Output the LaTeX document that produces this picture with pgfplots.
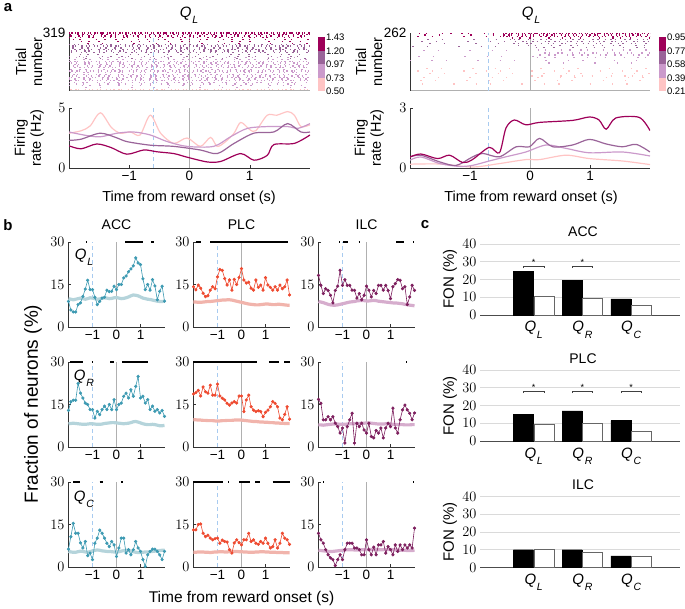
\documentclass[border=0pt]{standalone}
\usepackage{pgfplots}
\usepackage{pgfplotstable}
\pgfplotsset{compat=1.18}
\usepackage{fontspec}
\setmainfont{Liberation Sans}
\definecolor{magD}{HTML}{9E0059}
\definecolor{purM}{HTML}{9A6499}
\definecolor{purL}{HTML}{CB9ACB}
\definecolor{pinkL}{HTML}{FFC4C4}
\definecolor{accC}{HTML}{3D9AB2}
\definecolor{accB}{HTML}{B5D4DB}
\definecolor{plcC}{HTML}{EE4A30}
\definecolor{plcB}{HTML}{F1B4AC}
\definecolor{ilcC}{HTML}{7D1F5E}
\definecolor{ilcB}{HTML}{D6ADCD}
\definecolor{dashB}{HTML}{A8CBF0}
\definecolor{zeroG}{HTML}{B0B0B0}
\definecolor{gridG}{HTML}{DADADA}
\newcommand\Q[2][10.5]{\textit{Q}\kern0.8pt\raisebox{-0.42em}{\fontsize{#1}{#1}\selectfont\textit{#2}}}
\tikzset{
 dE/.style={dash pattern=on 1.4pt off 1.0pt on 1.4pt off 2.2pt on 1.4pt off 0.8pt on 1.4pt off 3.0pt},
 p1/.style={dash pattern=on 1.4pt off 1.9pt on 1.4pt off 3.7pt on 1.4pt off 1.2pt on 1.4pt off 5.1pt on 1.4pt off 2.6pt},
 p2/.style={dash pattern=on 1.4pt off 2.7pt on 1.4pt off 1.5pt on 1.4pt off 6.1pt on 1.4pt off 3.3pt on 1.4pt off 3.3pt},
 p3/.style={dash pattern=on 1.4pt off 3.1pt on 1.4pt off 6.4pt on 1.4pt off 2.2pt on 1.4pt off 4.9pt},
 m1/.style={dash pattern=on 1.4pt off 4.4pt on 1.4pt off 2.9pt on 1.4pt off 8.3pt on 1.4pt off 3.5pt on 1.4pt off 6.1pt},
 m2/.style={dash pattern=on 1.4pt off 5.7pt on 1.4pt off 3.4pt on 1.4pt off 7.1pt on 1.4pt off 2.4pt on 1.4pt off 9.2pt},
 m3/.style={dash pattern=on 1.4pt off 3.8pt on 1.4pt off 7.7pt on 1.4pt off 4.6pt on 1.4pt off 11.3pt},
 s1/.style={dash pattern=on 1.4pt off 9.5pt on 1.4pt off 5.2pt on 1.4pt off 14.7pt on 1.4pt off 7.3pt},
 s2/.style={dash pattern=on 1.4pt off 12.1pt on 1.4pt off 6.3pt on 1.4pt off 8.8pt on 1.4pt off 17.5pt},
 vs/.style={dash pattern=on 1.4pt off 21pt on 1.4pt off 13pt on 1.4pt off 30pt},
}
\newcommand\rr[6]{\addplot[#1,line width=1.4pt,#2,dash phase=#3pt,forget plot] coordinates {(#4,#6)(#5,#6)};}
\newcommand\sig[2]{\addplot[black,line width=1.6pt,forget plot] coordinates {(#1,30)(#2,30)};}
\newcommand\vl[1]{\addplot[zeroG,line width=0.7pt] coordinates {(0,0)(0,30)};
 \addplot[dashB,line width=1pt,dash pattern=on 4pt off 3pt] coordinates {(#1,0)(#1,30)};}
\newcommand\brk[3]{\draw[black!75,line width=0.6pt] (axis cs:#1,#3-1) -- (axis cs:#1,#3) -- (axis cs:#2,#3) -- (axis cs:#2,#3-1);}
\pgfplotsset{
 base/.style={scale only axis, anchor=south west, axis x line*=bottom, axis y line*=left,
   axis line style={black!80, line width=0.6pt}, tick style={black!80, line width=0.5pt},
   tick align=inside, major tick length=2.5pt,
   tick label style={font=\fontsize{13.5}{14}\selectfont}},
 ras/.style={base, width=241pt, height=57.7pt, xmin=-2, xmax=2, ymin=0, xtick=\empty, major tick length=0pt, x axis line style={zeroG}},
 fr/.style={base, width=241pt, height=60pt, xmin=-2, xmax=2, ymin=0, xtick={-1,0,1}, xticklabels={−1,0,1}},
 cb/.style={scale only axis, anchor=south west, width=7pt, height=54pt, xmin=0, xmax=1, axis x line=none, axis y line*=right, y axis line style={draw=none}, major tick length=0pt, yticklabel style={font=\fontsize{9.5}{10}\selectfont, xshift=-2.5pt}},
 bx/.style={base, width=97pt, height=85pt, xmin=-2.02, xmax=2.02, ymin=0, ymax=30, xtick={-1,0,1}, xticklabels={−1,0,1}, ytick={0,15,30}, clip=false},
 cx/.style={scale only axis, anchor=south west, width=200pt, height=71pt, xmin=-0.1, xmax=4, ymin=0, ymax=40, ytick={0,10,20,30,40}, ymajorgrids, grid style={gridG, line width=0.6pt}, axis x line*=bottom, axis y line*=left, y axis line style={draw=none}, x axis line style={black!70, line width=0.7pt}, major tick length=0pt, xtick={1,2,3}, xticklabels={\Q{L},\Q{R},\Q{C}}, yticklabel style={font=\fontsize{13.5}{14}\selectfont}, xticklabel style={font=\fontsize{15}{15}\selectfont, yshift=-3pt}, clip=false},
 bk/.style={ybar, bar width=20pt, bar shift=0pt, fill=black, draw=black},
 wh/.style={ybar, bar width=20pt, bar shift=0pt, fill=white, draw=black!60, line width=0.8pt},
}
\pgfplotstableread{
t aL aR aC pL pR pC iL iR iC baL baR baC bpL bpR bpC biL biR biC
-2.0 9 12.9 6.3 14.2 18.7 13.1 18.2 16.8 11.9 10 8.2 5.5 8.8 9.6 5.2 9 7.8 5.9
-1.9 6 16 10.7 13.1 19.2 13.1 14.7 15.4 9.6 9.8 8.3 5.3 8.8 9.6 5.2 8.8 7.8 5.8
-1.8 5.3 16.5 15.4 14.8 20 15 11.8 9.6 8.4 9.6 8.4 5.2 8.7 9.5 5.3 8.6 7.7 5.7
-1.7 5.3 16.5 11.9 13.7 18 15.2 13.5 9.6 6.1 9.8 8.3 5.2 8.7 9.5 5.3 8.3 7.8 5.6
-1.6 7.9 22.4 11.9 11.9 21.2 11.9 12.9 10.7 4.3 10 8.2 5.4 8.8 9.4 5.3 8 7.9 5.5
-1.5 8.5 19 8.5 10.7 19.5 10.7 11.2 9.6 3.2 10.2 8.1 5.6 8.9 9.4 5.2 7.8 8 5.5
-1.4 10.8 17.3 6.7 11 19 11.2 8.5 10.7 2.6 10 8 5.5 9 9.3 5.2 7.7 8.1 5.5
-1.3 13.4 15.5 9 13 21.8 10.2 12.9 8.4 0.5 9.8 8 5.3 9 9.3 5.1 7.7 8.1 5.6
-1.2 16.5 15 4 14.2 18.3 9.6 14.4 7.2 2.6 10 8.1 5.2 9.1 9.3 5.2 7.8 8.1 5.7
-1.1 13.2 13.2 4.9 13.5 18.3 10 20 4.9 4.3 10.3 8.2 5.4 9.2 9.2 5.3 8 8 5.8
-1.0 13.2 13.2 2.6 17.7 22.2 10.2 14.7 6.7 2.6 10.2 8.2 5.7 9.3 9.2 5.3 8.2 8 5.9
-0.9 10.5 10.2 8.4 20.3 18 8.4 16.7 1.4 6.1 10 8.1 5.9 9.4 9.2 5.4 8.4 8 6
-0.8 7.9 12.6 10.2 20 17.2 9.5 14.7 7.2 8.4 9.8 8 6 9.5 9.3 5.4 8.6 8.1 6.1
-0.7 9 11.4 13 17.1 16.6 9 14.7 9.6 8.4 9.9 8 5.9 9.5 9.3 5.3 8.8 8.2 6.1
-0.6 10.2 13.2 11.9 14.8 15.4 8.8 13 11.9 8.4 10.1 8.1 5.7 9.6 9.4 5.3 8.9 8.2 6.1
-0.5 10.5 14.4 10.2 16.6 14.8 6.1 12.9 1.4 6.7 10.3 8.3 5.6 9.6 9.4 5.4 9 8.2 6
-0.4 13 13.2 8.4 13 15.5 4.9 10.2 8.4 6.7 10.2 8.4 5.5 9.5 9.4 5.5 9.2 8.3 6
-0.3 12.5 15 7.2 16.8 16 8.5 11.8 7.2 6.1 10 8.5 5.5 9.3 9.5 5.5 9.3 8.3 6
-0.2 12.6 13.2 9 15 15.5 9.6 9.6 8.4 4.3 10.1 8.6 5.4 9.1 9.5 5.5 9.3 8.4 6.1
-0.1 14.4 16.7 7.8 17.5 18 8.6 11.2 6 4.3 10.3 8.6 5.3 8.9 9.5 5.4 9.3 8.4 6.1
0.0 13.2 13.2 3.7 20.6 18 7.8 14.4 4.9 9.6 10.4 8.5 5.3 8.7 9.5 5.4 9.2 8.5 6.1
0.1 15 15 6.7 16.6 12.5 9.6 13 8.4 6.1 10.2 8.4 5.4 8.5 9.4 5.3 9.2 8.5 6.2
0.2 15 15.5 10.2 15.5 16.6 9.6 10.6 3.7 4.3 10 8.3 5.6 8.3 9.3 5.3 9.3 8.4 6.2
0.3 17.3 17.9 10.2 15.8 18.3 11.9 12.9 3.2 7 10.1 8.2 5.8 8.1 9.2 5.2 9.4 8.3 6.2
0.4 18 19 4.9 13.7 14.2 9 11.8 5.8 4.3 10.3 8.3 5.9 8 9.1 5.2 9.3 8.2 6.2
0.5 19.5 17.3 6.1 13 13 9.6 14.7 4.9 7.8 10.6 8.4 5.8 7.9 9 5.2 9.1 8.1 6.1
0.6 20.5 20.2 4.3 16.6 12.5 8.4 14.7 6.7 7.8 11 8.6 5.6 7.8 9 5.3 9 8.1 6.1
0.7 21.6 17.9 6.1 14 12.8 8 13 3.2 9 11.3 8.9 5.4 7.8 8.9 5.3 8.9 8.1 6.1
0.8 24.4 21.4 9 14.8 12.5 9 14.7 6.7 4.9 11.2 9 5.2 7.9 8.8 5.4 8.8 8.2 6.2
0.9 22.6 24.9 6.7 13 10.7 8.4 12.9 8.4 7.2 11 8.8 5.1 8 8.8 5.4 8.7 8.2 6.2
1.0 22 17.3 5.5 17.4 12.2 10.2 10 7.2 6.1 10.6 8.5 5.1 8.1 8.7 5.3 8.6 8.1 6.2
1.1 17 17.9 2.6 14.8 13 8.4 14.2 13.7 4.3 10.2 8.2 5.2 8.1 8.7 5.3 8.5 8 6.1
1.2 13.2 15.5 0.2 14 14.2 6.7 15.3 6.7 7.8 10 8 5.3 8 8.6 5.2 8.5 8 6
1.3 15 16.7 4.3 13 16 7.2 16.7 4.9 5.5 9.8 7.9 5.3 7.9 8.6 5.2 8.4 7.9 6
1.4 13 13.2 5.5 14.2 15.4 9.6 16.5 9.6 7.8 9.7 7.9 5.4 7.9 8.5 5.2 8.3 7.9 5.9
1.5 16.7 14.4 6.3 13 14.2 6.7 13.5 13.1 6.1 9.5 8 5.5 8 8.5 5.1 8.2 7.9 5.9
1.6 14.5 12.6 6.3 14.8 10.2 8.4 14.2 14.8 7.8 9.3 7.9 5.6 8 8.4 5.1 8 7.8 5.9
1.7 9.6 13.2 5.5 13.5 9.6 11.9 7.9 13.1 6.7 9.1 7.7 5.7 7.9 8.4 5.1 7.9 7.8 5.8
1.8 12.6 12 4.3 14.2 11.5 10.2 10.6 11.9 7.8 9 7.5 5.8 7.8 8.3 5 7.7 7.8 5.8
1.9 14.4 12.9 2.6 16.6 14.2 9.6 14.7 9.6 6.7 9 7.5 5.9 7.7 8.3 5 7.6 7.9 5.8
2.0 9.1 10.8 5.5 11.3 9.8 8 12.9 12 13.7 9.1 7.6 5.9 7.7 8.3 5 7.5 7.9 5.9
}\dat
\newcommand\bpanel[4]{%
 \addplot[#1,line width=3.2pt] table[x=t,y=#3]{\dat};
 \addplot[#2,line width=0.6pt,mark=*,mark size=1.3pt,mark options={fill=#2,draw=#2}] table[x=t,y=#4]{\dat};}
\begin{document}
\begin{tikzpicture}[x=1pt,y=1pt]
\useasboundingbox (0pt,0pt) rectangle (685pt,609pt);
% ================= panel a left ==================
\begin{axis}[ras, at={(69pt,518.3pt)}, ymax=319, ytick={319}, yticklabels={319}]
\addplot[zeroG,line width=0.7pt] coordinates {(0,0)(0,319)};
\addplot[dashB,line width=1pt,dash pattern=on 4pt off 3pt] coordinates {(-0.6,0)(-0.6,319)};
\rr{purL}{s1}{4}{-2}{2}{182}
\rr{purL}{m3}{0}{-2}{2}{172}
\rr{purL}{p1}{3}{-2}{2}{163}
\rr{purL}{m2}{5}{-2}{2}{154}
\rr{purL}{p3}{7}{-2}{2}{145}
\rr{purL}{m1}{2}{-2}{2}{136}
\rr{purL}{p2}{9}{-2}{2}{127}
\rr{purL}{m3}{4}{-2}{2}{118}
\rr{purL}{p1}{1}{-2}{2}{109}
\rr{purL}{m2}{6}{-2}{2}{100}
\rr{purL}{p3}{8}{-2}{2}{91}
\rr{purL}{m1}{3}{-2}{2}{82}
\rr{purL}{p2}{5}{-2}{2}{73}
\rr{purL}{m3}{0}{-2}{2}{64}
\rr{purL}{p1}{2}{-2}{2}{55}
\rr{purL}{m2}{7}{-2}{2}{46}
\rr{purL}{s1}{4}{-2}{2}{37}
\rr{purL}{s2}{1}{-2}{2}{28}
\rr{purL}{vs}{6}{-2}{2}{18}
\rr{purM}{vs}{6}{-2}{2}{178}
\rr{purM}{s1}{1}{-2}{2}{190}
\rr{purM}{s2}{3}{-2}{2}{200}
\rr{purM}{m1}{8}{-2}{2}{210}
\rr{purM}{m2}{5}{-2}{2}{219}
\rr{purM}{p2}{9}{-2}{2}{228}
\rr{purM}{m3}{2}{-2}{2}{237}
\rr{purM}{p1}{5}{-2}{2}{246}
\rr{purM}{m1}{1}{-2}{2}{255}
\rr{magD}{vs}{4}{-2}{2}{262}
\rr{magD}{s2}{2}{-2}{2}{273}
\rr{magD}{s1}{7}{-2}{2}{284}
\rr{magD}{m2}{1}{-2}{2}{294}
\rr{magD}{p3}{3}{-2}{2}{303}
\rr{magD}{p2}{6}{-2}{2}{311}
\rr{magD}{dE}{0}{-2}{2}{318}
\rr{pinkL}{p1}{2}{-2}{2}{5}
\end{axis}
\begin{axis}[cb, at={(318pt,517.5pt)}, ymin=0.5, ymax=1.43, ytick={0.5,0.73,0.97,1.2,1.43}, yticklabels={0.50,0.73,0.97,1.20,1.43}]
\addplot[fill=magD,draw=none] coordinates {(0,1.43)(1,1.43)} \closedcycle;
\addplot[fill=purM,draw=none] coordinates {(0,1.1975)(1,1.1975)} \closedcycle;
\addplot[fill=purL,draw=none] coordinates {(0,0.965)(1,0.965)} \closedcycle;
\addplot[fill=pinkL,draw=none] coordinates {(0,0.7325)(1,0.7325)} \closedcycle;
\end{axis}
\begin{axis}[fr, at={(69pt,441pt)}, ymax=5, ytick={0,5}]
\addplot[zeroG,line width=0.7pt] coordinates {(0,0)(0,5)};
\addplot[dashB,line width=1pt,dash pattern=on 4pt off 3pt] coordinates {(-0.6,0)(-0.6,5)};
\addplot[pinkL,line width=1.2pt,smooth] coordinates {(-2,2.9)(-1.8,3.1)(-1.65,3.5)(-1.48,4.6)(-1.3,3.4)(-1.15,2.9)(-0.98,3.0)(-0.82,2.75)(-0.65,4.4)(-0.48,2.9)(-0.26,2.05)(-0.04,2.5)(0.18,1.8)(0.35,2.55)(0.46,1.8)(0.6,2.2)(0.74,2.9)(0.85,3.8)(1.0,3.2)(1.1,3.1)(1.29,4.4)(1.45,4.4)(1.63,4.7)(1.74,4.4)(1.85,3.45)(2.0,3.6)};
\addplot[purL,line width=1.2pt,smooth] coordinates {(-2,3.0)(-1.7,2.7)(-1.48,2.6)(-1.2,2.9)(-0.93,3.0)(-0.65,2.75)(-0.37,2.2)(-0.04,1.8)(0.4,1.8)(0.68,2.6)(0.96,3.3)(1.29,3.45)(1.63,3.45)(1.8,3.3)(2.0,3.7)};
\addplot[purM,line width=1.2pt,smooth] coordinates {(-2,2.3)(-1.8,2.4)(-1.48,2.9)(-1.2,2.5)(-1.04,2.2)(-0.65,1.9)(-0.26,1.8)(0.18,1.5)(0.46,1.2)(0.74,2.05)(1.07,2.9)(1.4,3.0)(1.63,3.7)(1.85,3.0)(2.0,3.0)};
\addplot[magD,line width=1.2pt,smooth] coordinates {(-2,1.85)(-1.8,1.6)(-1.54,2.0)(-1.3,1.7)(-1.04,1.15)(-0.76,1.5)(-0.54,1.35)(-0.26,1.2)(-0.04,0.9)(0.3,0.5)(0.52,0.55)(0.85,1.2)(1.07,0.65)(1.29,1.05)(1.4,1.95)(1.74,2.05)(2.0,2.75)};
\end{axis}
% ================= panel a right ==================
\begin{axis}[ras, width=240pt, at={(410pt,518.3pt)}, ymax=262, ytick={262}, yticklabels={262}]
\addplot[zeroG,line width=0.7pt] coordinates {(0,0)(0,262)};
\addplot[dashB,line width=1pt,dash pattern=on 4pt off 3pt] coordinates {(-0.7,0)(-0.7,262)};
\rr{pinkL}{vs}{6}{-2}{2}{102}
\rr{pinkL}{vs}{15}{-2}{2}{90}
\rr{pinkL}{vs}{3}{-2}{2}{78}
\rr{pinkL}{s2}{20}{0}{2}{66}
\rr{pinkL}{vs}{9}{-2}{2}{60}
\rr{pinkL}{vs}{12}{-2}{2}{45}
\rr{pinkL}{vs}{25}{-2}{2}{30}
\rr{purL}{s1}{3}{0}{2}{185}
\rr{purL}{vs}{9}{-2}{0}{182}
\rr{purL}{m2}{5}{0.2}{2}{172}
\rr{purL}{m3}{2}{0.1}{2}{162}
\rr{purL}{vs}{14}{-2}{0.1}{155}
\rr{purL}{s2}{7}{0}{2}{150}
\rr{purL}{vs}{1}{-2}{2}{138}
\rr{purL}{vs}{4}{0}{2}{126}
\rr{purM}{m1}{4}{-0.3}{2}{232}
\rr{purM}{vs}{5}{-2}{-0.3}{232}
\rr{purM}{p3}{2}{-0.3}{2}{223}
\rr{purM}{vs}{11}{-2}{-0.3}{223}
\rr{purM}{m2}{6}{-0.3}{2}{214}
\rr{purM}{vs}{3}{-2}{-0.3}{214}
\rr{purM}{s1}{1}{-0.2}{2}{205}
\rr{purM}{vs}{20}{-2}{-0.2}{200}
\rr{purM}{s2}{8}{0}{2}{195}
\rr{magD}{dE}{0}{-0.45}{2}{259}
\rr{magD}{s1}{2}{-2}{-0.45}{259}
\rr{magD}{p1}{3}{-0.45}{2}{252}
\rr{magD}{vs}{8}{-2}{-0.45}{252}
\rr{magD}{p2}{1}{-0.45}{2}{245}
\rr{magD}{vs}{15}{-2}{-0.45}{245}
\rr{magD}{s2}{5}{-0.45}{2}{239}
\end{axis}
\begin{axis}[cb, at={(659pt,517.5pt)}, ymin=0.21, ymax=0.95, ytick={0.21,0.395,0.58,0.765,0.95}, yticklabels={0.21,0.39,0.58,0.77,0.95}]
\addplot[fill=magD,draw=none] coordinates {(0,0.95)(1,0.95)} \closedcycle;
\addplot[fill=purM,draw=none] coordinates {(0,0.765)(1,0.765)} \closedcycle;
\addplot[fill=purL,draw=none] coordinates {(0,0.58)(1,0.58)} \closedcycle;
\addplot[fill=pinkL,draw=none] coordinates {(0,0.395)(1,0.395)} \closedcycle;
\end{axis}
\begin{axis}[fr, width=240pt, at={(410pt,441pt)}, ymax=3, ytick={0,3}]
\addplot[zeroG,line width=0.7pt] coordinates {(0,0)(0,3)};
\addplot[dashB,line width=1pt,dash pattern=on 4pt off 3pt] coordinates {(-0.7,0)(-0.7,3)};
\addplot[pinkL,line width=1.2pt,smooth] coordinates {(-2,0.19)(-1.5,0.2)(-0.96,0.05)(-0.51,0.22)(-0.07,0.42)(0.16,0.42)(0.6,0.64)(0.99,0.47)(1.54,0.35)(2.0,0.17)};
\addplot[purL,line width=1.2pt,smooth] coordinates {(-2,0.39)(-1.82,0.55)(-1.5,0.22)(-1.18,0.08)(-0.96,0.13)(-0.68,0.35)(-0.4,0.56)(-0.07,0.8)(0.27,1.15)(0.6,0.98)(0.99,0.76)(1.54,0.8)(2.0,0.6)};
\addplot[purM,line width=1.2pt,smooth] coordinates {(-2,0.55)(-1.82,0.64)(-1.5,0.3)(-1.23,0.13)(-0.96,0.55)(-0.79,0.73)(-0.51,0.56)(-0.23,1.06)(-0.01,1.06)(0.16,1.48)(0.38,1.06)(0.71,1.15)(0.99,1.43)(1.27,1.2)(1.54,1.06)(1.77,1.18)(2.0,0.8)};
\addplot[magD,line width=1.2pt,smooth] coordinates {(-2,0.55)(-1.82,0.7)(-1.54,0.47)(-1.34,0.64)(-1.12,0.27)(-0.96,0.42)(-0.68,1.03)(-0.51,0.76)(-0.4,2.0)(-0.26,2.4)(-0.07,2.16)(0.16,2.28)(0.71,2.38)(0.99,2.55)(1.15,2.4)(1.27,1.94)(1.43,2.5)(1.82,2.53)(2.0,1.87)};
\end{axis}
% labels panel a
\node[font=\bfseries\fontsize{15}{15}\selectfont] at (8pt,601pt) {a};
\node[font=\fontsize{15}{15}\selectfont] at (189pt,594pt) {\Q{L}};
\node[font=\fontsize{15}{15}\selectfont] at (531pt,594pt) {\Q{L}};
\node[rotate=90,align=center,font=\fontsize{14.5}{16}\selectfont] at (29pt,547pt) {Trial\\number};
\node[rotate=90,align=center,font=\fontsize{14.5}{16}\selectfont] at (29pt,471pt) {Firing\\rate (Hz)};
\node[rotate=90,align=center,font=\fontsize{14.5}{16}\selectfont] at (369pt,547pt) {Trial\\number};
\node[rotate=90,align=center,font=\fontsize{14.5}{16}\selectfont] at (369pt,471pt) {Firing\\rate (Hz)};
\node[font=\fontsize{14.5}{15}\selectfont] at (189pt,411pt) {Time from reward onset (s)};
\node[font=\fontsize{14.5}{15}\selectfont] at (531pt,411pt) {Time from reward onset (s)};
% ================= panel b ==================
\begin{axis}[bx, at={(68pt,282pt)}]
\vl{-1}
\bpanel{accB}{accC}{baL}{aL}
\sig{-1.28}{-1.23}\sig{0.36}{1.12}\sig{1.43}{1.57}
\end{axis}
\begin{axis}[bx, at={(68pt,162pt)}]
\vl{-1}
\bpanel{accB}{accC}{baR}{aR}
\sig{-1.93}{-1.38}\sig{-1.03}{-0.98}\sig{-0.26}{-0.1}\sig{0.22}{1.33}
\end{axis}
\begin{axis}[bx, at={(68pt,42pt)}]
\vl{-1}
\bpanel{accB}{accC}{baC}{aC}
\sig{-1.8}{-1.5}\sig{-0.7}{-0.58}\sig{0.18}{0.28}
\end{axis}
\begin{axis}[bx, at={(193pt,282pt)}]
\vl{-1}
\bpanel{plcB}{plcC}{bpL}{pL}
\sig{-1.9}{-1.68}\sig{-1.3}{1.95}
\end{axis}
\begin{axis}[bx, at={(193pt,162pt)}]
\vl{-1}
\bpanel{plcB}{plcC}{bpR}{pR}
\sig{-2}{0.64}\sig{1.14}{1.57}\sig{1.79}{2.0}
\end{axis}
\begin{axis}[bx, at={(193pt,42pt)}]
\vl{-1}
\bpanel{plcB}{plcC}{bpC}{pC}
\sig{-2}{-0.79}\sig{-0.55}{-0.5}\sig{-0.1}{0.36}\sig{0.57}{0.79}\sig{1.3}{2.0}
\end{axis}
\begin{axis}[bx, at={(318pt,282pt)}]
\vl{-1}
\bpanel{ilcB}{ilcC}{biL}{iL}
\sig{-1.14}{-1.1}\sig{-0.98}{-0.77}\sig{-0.33}{-0.29}\sig{1.23}{1.58}\sig{1.94}{1.98}
\end{axis}
\begin{axis}[bx, at={(318pt,162pt)}]
\vl{-1}
\bpanel{ilcB}{ilcC}{biR}{iR}
\sig{1.66}{1.7}
\end{axis}
\begin{axis}[bx, at={(318pt,42pt)}]
\vl{-1}
\bpanel{ilcB}{ilcC}{biC}{iC}
\sig{-1.8}{-1.76}\sig{1.94}{1.98}
\end{axis}
\node[font=\bfseries\fontsize{15}{15}\selectfont] at (8pt,384pt) {b};
\node[font=\fontsize{14}{14}\selectfont] at (116.5pt,384pt) {ACC};
\node[font=\fontsize{14}{14}\selectfont] at (241.5pt,384pt) {PLC};
\node[font=\fontsize{14}{14}\selectfont] at (366.5pt,384pt) {ILC};
\node[font=\fontsize{15}{15}\selectfont] at (84pt,352pt) {\Q{L}};
\node[font=\fontsize{15}{15}\selectfont] at (84pt,231pt) {\Q{R}};
\node[font=\fontsize{15}{15}\selectfont] at (84pt,110pt) {\Q{C}};
\node[rotate=90,font=\fontsize{19}{19}\selectfont] at (33pt,205pt) {Fraction of neurons (\%)};
\node[font=\fontsize{15.5}{16}\selectfont] at (241.5pt,11pt) {Time from reward onset (s)};
% ================= panel c ==================
\begin{axis}[cx, at={(480pt,294pt)}]
\addplot[bk] coordinates {(0.79,24.6)(1.79,19.5)(2.79,9.1)};
\addplot[wh] coordinates {(1.21,10.2)(2.21,9.1)(3.21,5.4)};
\brk{0.79}{1.21}{27.4}\brk{1.79}{2.21}{27.4}
\node[font=\fontsize{9}{9}\selectfont] at (axis cs:1,29.6) {*};
\node[font=\fontsize{9}{9}\selectfont] at (axis cs:2,29.6) {*};
\end{axis}
\begin{axis}[cx, at={(480pt,168pt)}]
\addplot[bk] coordinates {(0.79,15.2)(1.79,17)(2.79,11.5)};
\addplot[wh] coordinates {(1.21,9.5)(2.21,10)(3.21,5.5)};
\brk{0.79}{1.21}{28}\brk{1.79}{2.21}{28}\brk{2.79}{3.21}{28}
\node[font=\fontsize{9}{9}\selectfont] at (axis cs:1,30.3) {*};
\node[font=\fontsize{9}{9}\selectfont] at (axis cs:2,30.3) {*};
\node[font=\fontsize{9}{9}\selectfont] at (axis cs:3,30.3) {*};
\end{axis}
\begin{axis}[cx, at={(480pt,41.5pt)}]
\addplot[bk] coordinates {(0.79,10)(1.79,10)(2.79,6.6)};
\addplot[wh] coordinates {(1.21,10)(2.21,8.6)(3.21,6.2)};
\end{axis}
\node[font=\bfseries\fontsize{15}{15}\selectfont] at (425pt,384pt) {c};
\node[font=\fontsize{14}{14}\selectfont] at (583pt,377pt) {ACC};
\node[font=\fontsize{14}{14}\selectfont] at (583pt,250pt) {PLC};
\node[font=\fontsize{14}{14}\selectfont] at (583pt,124pt) {ILC};
\node[rotate=90,font=\fontsize{15}{15}\selectfont] at (450pt,330pt) {FON (\%)};
\node[rotate=90,font=\fontsize{15}{15}\selectfont] at (450pt,203pt) {FON (\%)};
\node[rotate=90,font=\fontsize{15}{15}\selectfont] at (450pt,77pt) {FON (\%)};
\end{tikzpicture}
\end{document}
